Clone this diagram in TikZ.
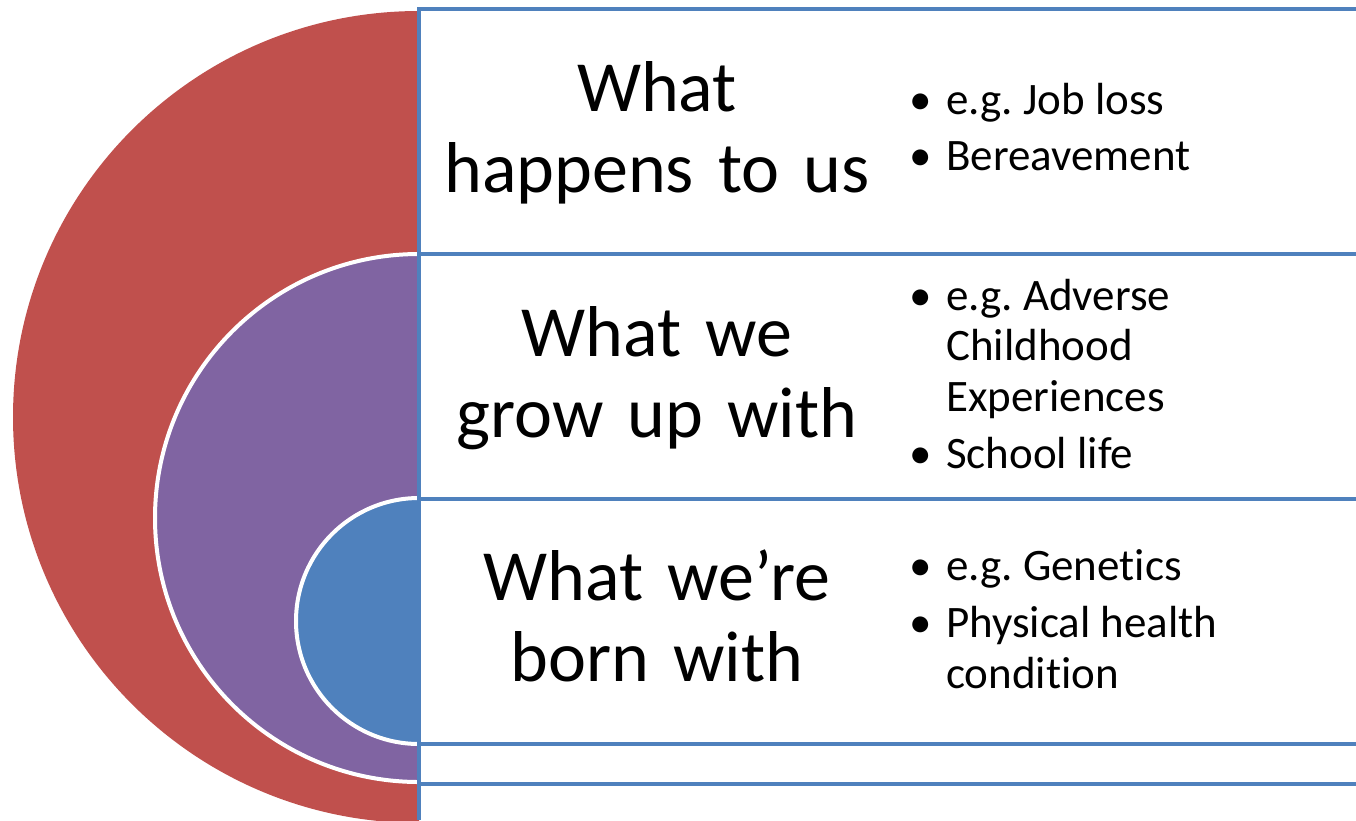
\documentclass[tikz,border=0pt]{standalone}
\usepackage{fontspec}
\setmainfont{Carlito}[Ligatures=NoCommon]
\definecolor{ringred}{HTML}{C0504D}
\definecolor{ringpurple}{HTML}{8064A2}
\definecolor{ringblue}{HTML}{4F81BD}
\newcommand{\bitem}{\textbullet}
\frenchspacing
\begin{document}
\begin{tikzpicture}[x=1pt, y=-1pt,
        rowline/.style={draw=ringblue, line width=4pt},
        ring/.style={draw=white, line width=4pt},
        title/.style={anchor=base, text width=440pt, align=center, inner sep=0pt,
            font=\fontsize{72}{81}\selectfont},
        bullets/.style={anchor=base west, inner sep=0pt,
            font=\fontsize{45}{50.5}\selectfont}]
        \useasboundingbox (0,0) rectangle (1356,820);

        % nested half discs
        \fill[ringred] (419,11) arc[start angle=-90, end angle=-270, radius=406] -- cycle;
        \filldraw[ring, fill=ringpurple] (419,254) arc[start angle=-90, end angle=-270, radius=264] -- cycle;
        \filldraw[ring, fill=ringblue] (419,498) arc[start angle=-90, end angle=-270, radius=123] -- cycle;

        % table lines
        \draw[rowline] (1356,9) -| (419,820);
        \foreach \y in {254, 499, 743.5, 783.5}
            \draw[rowline] (419,\y) -- (1356,\y);

        % titles
        \node[title] (t1) at (657,111) {What\\happens to us};
        \node[title] (t2) at (657,356) {What we\\grow up with};
        \node[title] (t3) at (657,600) {What we’re\\born with};

        % examples
        \node[bullets] (b1) at (909,114) {\begin{tabular}[t]{@{}p{37pt}@{}l@{}}
            \bitem & e.g. Job loss\\[6pt]
            \bitem & Bereavement
        \end{tabular}};
        \node[bullets] (b2) at (909,310) {\begin{tabular}[t]{@{}p{37pt}@{}l@{}}
            \bitem & e.g. Adverse\\
                   & Childhood\\
                   & Experiences\\[7pt]
            \bitem & School life
        \end{tabular}};
        \node[bullets] (b3) at (909,580) {\begin{tabular}[t]{@{}p{37pt}@{}l@{}}
            \bitem & e.g. Genetics\\[7pt]
            \bitem & Physical health\\
                   & condition
        \end{tabular}};
    \end{tikzpicture}
\end{document}
